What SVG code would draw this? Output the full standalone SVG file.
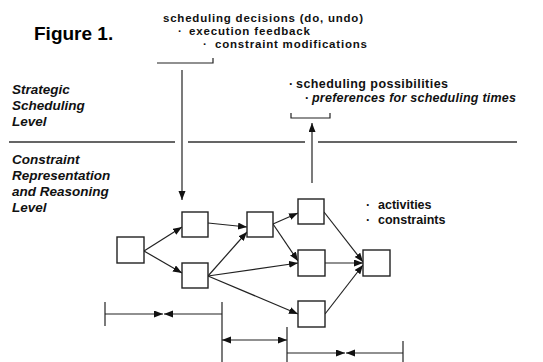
<svg xmlns="http://www.w3.org/2000/svg" width="543" height="362" viewBox="0 0 543 362">
<defs>
<style>
.t{font-family:"Liberation Sans",Arial,sans-serif;font-weight:bold;font-size:12.5px;fill:#111}
.ts{font-family:"Liberation Sans",Arial,sans-serif;font-weight:bold;font-size:11.5px;fill:#111}
.ti{font-family:"Liberation Sans",Arial,sans-serif;font-weight:bold;font-style:italic;font-size:13.5px;fill:#111}
.fig{font-family:"Liberation Sans",Arial,sans-serif;font-weight:bold;font-size:19px;fill:#000}
.node{fill:#fff;stroke:#222;stroke-width:1.4}
.ln{fill:none;stroke:#222;stroke-width:1.2}
.ar{fill:none;stroke:#222;stroke-width:1.2;marker-end:url(#ah)}
.div{fill:none;stroke:#333;stroke-width:1.3}
</style>
<marker id="ah" markerUnits="userSpaceOnUse" markerWidth="10" markerHeight="8" refX="9" refY="3.5" orient="auto-start-reverse">
<path d="M0,0 L9,3.5 L0,7 z" fill="#111"/>
</marker>
</defs>
<rect width="543" height="362" fill="#fff"/>

<g id="labels">
<text class="fig" x="34" y="40">Figure 1.</text>
<text class="ts" x="163" y="22" textLength="200" lengthAdjust="spacing">scheduling decisions (do, undo)</text>
<text class="ts" x="178" y="35">·</text><text class="ts" x="189" y="35" textLength="121" lengthAdjust="spacing">execution feedback</text>
<text class="ts" x="203" y="48">·</text><text class="ts" x="215" y="48" textLength="152" lengthAdjust="spacing">constraint modifications</text>
<text class="ti" x="12" y="94">Strategic</text>
<text class="ti" x="12" y="110">Scheduling</text>
<text class="ti" x="12" y="126">Level</text>
<text class="ti" x="12" y="164">Constraint</text>
<text class="ti" x="12" y="180">Representation</text>
<text class="ti" x="12" y="196">and Reasoning</text>
<text class="ti" x="12" y="212">Level</text>
<text class="t" x="289" y="88">·</text><text class="t" x="296" y="88" textLength="152" lengthAdjust="spacing">scheduling possibilities</text>
<text class="t" x="305" y="102">·</text><text class="t" x="312" y="102" font-style="italic" textLength="204" lengthAdjust="spacing">preferences for scheduling times</text>
<text class="t" x="366" y="209">·</text><text class="t" x="378" y="209">activities</text>
<text class="t" x="366" y="224">·</text><text class="t" x="378" y="224">constraints</text>
</g>

<g id="connectors">
<!-- level divider -->
<path class="div" d="M9,142 H175 M188,142 H305 M318,142 H517"/>
<!-- top bracket and down arrow -->
<path class="ln" d="M157,63 H213 V58"/>
<path class="ar" d="M182,70 V200"/>
<!-- right bracket and up arrow -->
<path class="ln" d="M291,113 V118 H330 V113"/>
<path class="ar" d="M312,183 V123"/>
<!-- graph edges -->
<path class="ar" d="M144,251 L182,227"/>
<path class="ar" d="M144,251 L182,273"/>
<path class="ar" d="M208,223 L247,227"/>
<path class="ar" d="M208,276 L247,232"/>
<path class="ar" d="M208,276 L298,263"/>
<path class="ar" d="M208,276 L298,314"/>
<path class="ar" d="M273,224 L298,213"/>
<path class="ar" d="M273,224 L298,261"/>
<path class="ar" d="M324,212 L363,262"/>
<path class="ar" d="M325,263 L363,263"/>
<path class="ar" d="M325,314 L363,265"/>
<!-- time bars -->
<path class="ln" d="M105,302 V326"/>
<path class="ar" d="M105,314 H163"/>
<path class="ar" d="M222,314 H164"/>
<path class="ln" d="M222,302 V362"/>
<path class="ln" d="M222,340 H287" style="marker-start:url(#ah);marker-end:url(#ah)"/>
<path class="ln" d="M287,327 V362"/>
<path class="ar" d="M287,353 H345"/>
<path class="ar" d="M403,353 H346"/>
<path class="ln" d="M403,341 V362"/>
</g>

<g id="n1"><rect class="node" x="117" y="237" width="27" height="26"/></g>
<g id="n2"><rect class="node" x="182" y="212" width="26" height="25"/></g>
<g id="n3"><rect class="node" x="182" y="263" width="26" height="25"/></g>
<g id="n4"><rect class="node" x="247" y="212" width="26" height="25"/></g>
<g id="n5"><rect class="node" x="298" y="199" width="26" height="25"/></g>
<g id="n6"><rect class="node" x="298" y="250" width="27" height="26"/></g>
<g id="n7"><rect class="node" x="298" y="301" width="27" height="26"/></g>
<g id="n8"><rect class="node" x="363" y="250" width="27" height="26"/></g>
</svg>
